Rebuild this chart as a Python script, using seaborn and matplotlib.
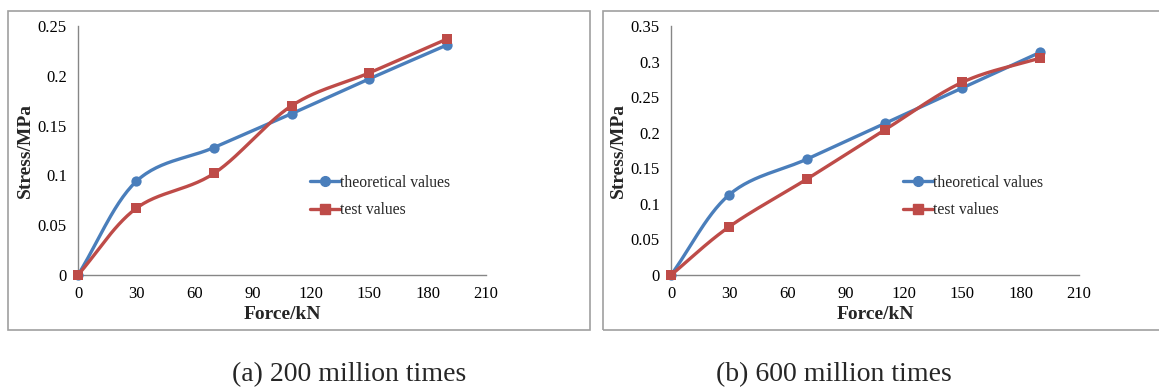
import numpy as np
import pandas as pd
import matplotlib.pyplot as plt
import seaborn as sns
from matplotlib.lines import Line2D
from matplotlib.patches import Rectangle

# data
force = [0, 30, 70, 110, 150, 190]
theory_a = [0, 0.094, 0.128, 0.162, 0.197, 0.231]
test_a = [0, 0.067, 0.102, 0.170, 0.203, 0.237]
theory_b = [0, 0.113, 0.163, 0.213, 0.263, 0.313]
test_b = [0, 0.068, 0.135, 0.204, 0.271, 0.305]
captions = ["(a) 200 million times", "(b) 600 million times"]
ymax = [0.25, 0.35]

blue = "#4A7EBB"
red = "#BE4B48"

sns.set_theme(style="white")
plt.rcParams["font.family"] = ["Liberation Serif", "DejaVu Serif"]


def smooth(x, y, n=30):
    # catmull-rom path through the points (like Excel "smoothed line")
    x = np.asarray(x, float)
    y = np.asarray(y, float)
    px = np.concatenate([[2 * x[0] - x[1]], x, [2 * x[-1] - x[-2]]])
    py = np.concatenate([[2 * y[0] - y[1]], y, [2 * y[-1] - y[-2]]])
    xs, ys = [], []
    t = np.linspace(0, 1, n)
    for i in range(1, len(px) - 2):
        for p, out in ((px, xs), (py, ys)):
            p0, p1, p2, p3 = p[i - 1], p[i], p[i + 1], p[i + 2]
            out.extend(0.5 * (2 * p1 + (-p0 + p2) * t
                              + (2 * p0 - 5 * p1 + 4 * p2 - p3) * t ** 2
                              + (-p0 + 3 * p1 - 3 * p2 + p3) * t ** 3))
    return np.array(xs), np.array(ys)


fig = plt.figure(figsize=(11.59, 3.88), dpi=100)

# panel frames
W, H = 1159, 388
for x0, x1 in [(8, 590), (603, 1165)]:
    fig.patches.append(Rectangle((x0 / W, 1 - 330 / H), (x1 - x0) / W, 319 / H,
                                 transform=fig.transFigure, fill=False,
                                 edgecolor="#a0a0a0", linewidth=1.2))

panels = [(0.0673, theory_a, test_a), (0.579, theory_b, test_b)]
for k, (left, th, te) in enumerate(panels):
    ax = fig.add_axes([left, 0.2912, 0.352, 0.6418])
    for vals, col, mk, lab in [(th, blue, "o", "theoretical values"),
                               (te, red, "s", "test values")]:
        sx, sy = smooth(force, vals)
        sns.lineplot(x=sx, y=sy, sort=False, color=col, linewidth=2.4, ax=ax)
        sns.scatterplot(x=force, y=vals, color=col, marker=mk, s=55,
                        edgecolor=col, linewidth=0, ax=ax, zorder=3, clip_on=False)
    ax.set_xlim(0, 210)
    ax.set_ylim(0, ymax[k])
    ax.set_xticks(range(0, 211, 30))
    ax.set_yticks(np.arange(0, ymax[k] + 0.001, 0.05))
    ax.set_yticklabels(["0"] + [f"{v:g}" for v in np.arange(0.05, ymax[k] + 0.001, 0.05)])
    for s in ["top", "right"]:
        ax.spines[s].set_visible(False)
    for s in ["left", "bottom"]:
        ax.spines[s].set_color("#868686")
        ax.spines[s].set_linewidth(1)
    ax.tick_params(axis="both", direction="out", length=4, width=1, color="#868686",
                   labelsize=12, labelcolor="black", pad=4)
    ax.set_xlabel("Force/kN", fontsize=14, fontweight="bold", labelpad=3)
    ax.set_ylabel("Stress/MPa", fontsize=14, fontweight="bold", labelpad=3)
    handles = [Line2D([], [], color=blue, marker="o", markersize=7, linewidth=2.4),
               Line2D([], [], color=red, marker="s", markersize=7, linewidth=2.4)]
    ax.legend(handles, ["theoretical values", "test values"], loc="center left",
              bbox_to_anchor=(0.535, 0.315), frameon=False, fontsize=11.3,
              handlelength=1.9, handletextpad=0.0, labelspacing=0.75)
    fig.text([349, 834][k] / W, 1 - 375 / H, captions[k], ha="center", va="center",
             fontsize=20)

plt.savefig("out.png", dpi=100)
